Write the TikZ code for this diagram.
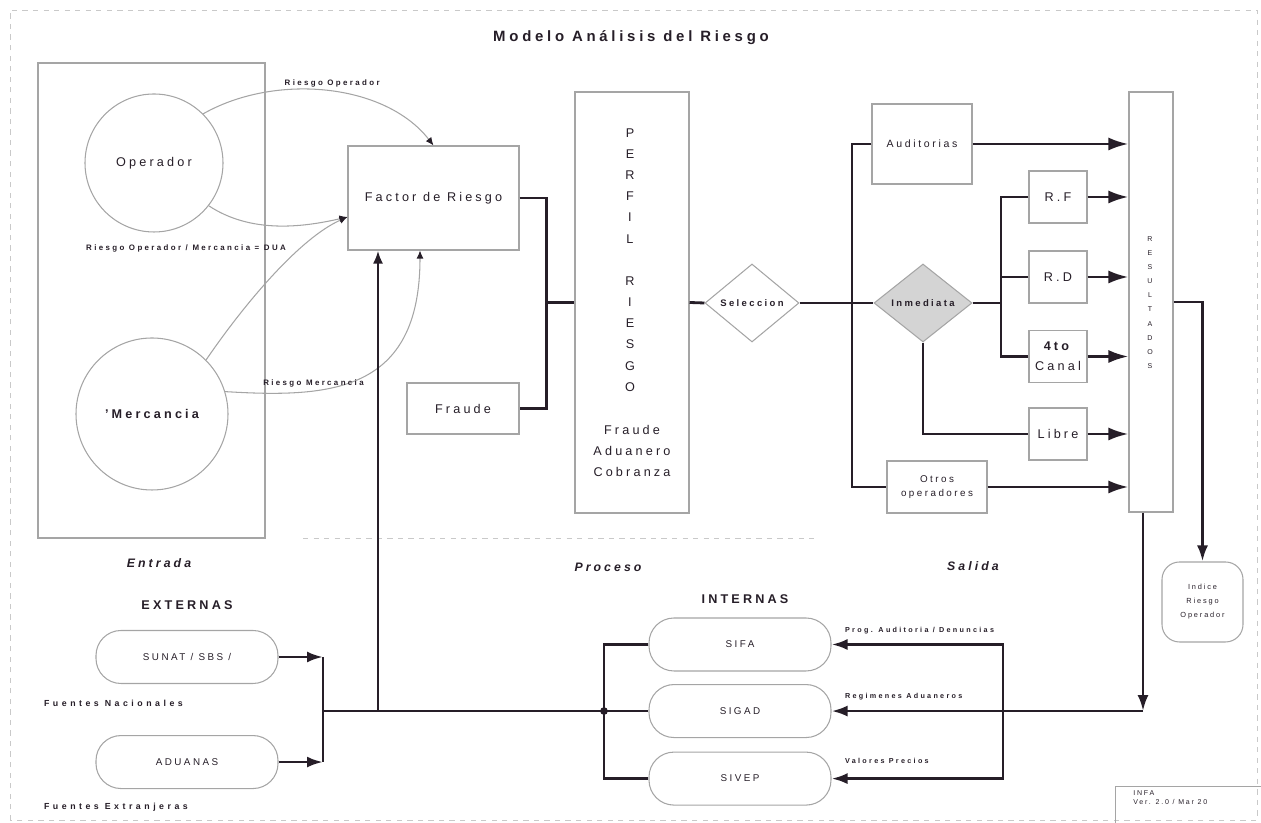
\documentclass[tikz,border=0pt]{standalone}
\usepackage{fontspec}
\setmainfont[LetterSpace=25]{Liberation Sans}
\usepackage{tikz}
\usetikzlibrary{shapes.geometric, arrows.meta, positioning, calc}
\definecolor{linegray}{RGB}{165,165,165}
\definecolor{inkdark}{RGB}{38,30,40}
\definecolor{shadegray}{RGB}{212,212,212}
\tikzstyle{box} = [rectangle, draw=linegray, line width=0.6pt, text centered, align=center, inner sep=1pt]
\tikzstyle{pill} = [rectangle, rounded corners=0.5cm, draw=linegray, line width=0.6pt, minimum width=3.64cm, minimum height=1.06cm, font=\fontsize{5.6}{7}\selectfont]
\tikzstyle{choice} = [diamond, draw=linegray, line width=0.6pt, aspect=1.2, inner sep=0pt, minimum width=1.88cm, minimum height=1.56cm, font=\fontsize{5.4}{7}\selectfont\bfseries]
\tikzstyle{source} = [circle, draw=linegray, line width=0.6pt]
\tikzstyle{bus} = [line width=1.6pt, draw=inkdark]
\tikzstyle{arrow} = [bus, -{Latex[length=4mm, width=2.6mm]}]
\tikzstyle{arrowmd} = [bus, -{Latex[length=3.2mm, width=2.2mm]}]
\tikzstyle{flow} = [draw=linegray, line width=0.6pt, -{Latex[length=1.6mm, width=1.4mm, color=inkdark]}]
\tikzstyle{lbl} = [font=\fontsize{4.5}{5}\selectfont\bfseries\addfontfeature{LetterSpace=30}, inner sep=1pt]
\tikzstyle{tinylbl} = [font=\fontsize{4.1}{5}\selectfont\bfseries\addfontfeature{LetterSpace=32}, inner sep=1pt]
\tikzstyle{srclbl} = [font=\fontsize{5}{6}\selectfont\bfseries\addfontfeature{LetterSpace=40}, inner sep=1pt]
\tikzstyle{section} = [font=\fontsize{7}{9}\selectfont\bfseries\itshape]
\tikzstyle{group} = [font=\fontsize{7.2}{9}\selectfont\bfseries]
\tikzstyle{frame} = [draw=linegray!60, line width=0.5pt, dashed]

\begin{document}
\begin{tikzpicture}[font=\fontsize{7.2}{9}\selectfont, text=inkdark]
    \useasboundingbox (0,0) rectangle (25.22,16.46);
    \draw [frame] (0.2,0.06) rectangle (25.14,16.26);
    \node (title) [font=\fontsize{8.5}{10}\selectfont\bfseries] at (12.62,15.70) {Modelo Análisis del Riesgo};

    % Entrada
    \node (entradabox) [box, minimum width=4.54cm, minimum height=9.5cm] at (3.03,10.45) {};
    \node (oper) [source, minimum size=2.76cm] at (3.08,13.20) {Operador};
    \node (merc) [source, minimum size=3.04cm, font=\fontsize{7.2}{9}\selectfont\bfseries] at (3.04,8.18) {'Mercancia};
    \node (entrada) [section] at (3.18,5.20) {Entrada};

    % Proceso
    \node (factor) [box, minimum width=3.42cm, minimum height=2.08cm] at (8.67,12.50) {Factor de Riesgo};
    \node (fraude) [box, minimum width=2.24cm, minimum height=1.02cm] at (9.26,8.29) {Fraude};
    \node (perfil) [box, minimum width=2.28cm, minimum height=8.42cm] at (12.64,10.41) {};
    \node (perfiltxt) [font=\fontsize{7.2}{12.05}\selectfont, align=center] at (12.60,11.26) {P\\E\\R\\F\\I\\L\\[12.05pt]R\\I\\E\\S\\G\\O};
    \node (perfilsub) [font=\fontsize{7.2}{12.2}\selectfont, align=center] at (12.64,7.44) {Fraude\\Aduanero\\Cobranza};
    \node (sel) [choice] at (15.04,10.40) {Seleccion};
    \node (proceso) [section] at (12.16,5.12) {Proceso};
    \draw [frame] (6.06,5.70) -- (16.3,5.70);

    % Salida
    \node (audit) [box, minimum width=2cm, minimum height=1.6cm, font=\fontsize{6}{8}\selectfont] at (18.44,13.58) {Auditorias};
    \node (inm) [choice, fill=shadegray, minimum width=1.96cm] at (18.46,10.40) {Inmediata};
    \node (rf) [box, minimum width=1.16cm, minimum height=1.04cm] at (21.16,12.52) {R.F};
    \node (rd) [box, minimum width=1.16cm, minimum height=1.04cm] at (21.16,10.92) {R.D};
    \node (canal) [box, minimum width=1.16cm, minimum height=1.04cm, font=\fontsize{7.2}{11.4}\selectfont] at (21.16,9.33) {\textbf{4to}\\Canal};
    \node (libre) [box, minimum width=1.16cm, minimum height=1.04cm] at (21.16,7.78) {Libre};
    \node (otros) [box, minimum width=2cm, minimum height=1.04cm, font=\fontsize{5.6}{8}\selectfont] at (18.74,6.72) {Otros\\operadores};
    \node (res) [box, minimum width=0.88cm, minimum height=8.4cm] at (23.02,10.42) {};
    \node (restxt) [font=\fontsize{4}{8.03}\selectfont, align=center] at (23.0,10.41) {R\\E\\S\\U\\L\\T\\A\\D\\O\\S};
    \node (indice) [box, rounded corners=0.35cm, minimum width=1.62cm, minimum height=1.6cm, font=\fontsize{4.2}{8}\selectfont] at (24.05,4.42) {Indice\\Riesgo\\Operador};
    \node (salida) [section] at (19.46,5.14) {Salida};

    % Fuentes externas
    \node (externas) [group] at (3.74,4.36) {EXTERNAS};
    \node (sunat) [pill] at (3.74,3.32) {SUNAT / SBS /};
    \node (aduanas) [pill, below=1.02cm of sunat] {ADUANAS};
    \node (fnac) [srclbl, anchor=west] at (0.84,2.40) {Fuentes Nacionales};
    \node (fext) [srclbl, anchor=west] at (0.84,0.32) {Fuentes Extranjeras};

    % Fuentes internas
    \node (internas) [group] at (14.9,4.48) {INTERNAS};
    \node (sifa) [pill] at (14.8,3.57) {SIFA};
    \node (sigad) [pill, below=0.25cm of sifa] {SIGAD};
    \node (sivep) [pill, below=0.27cm of sigad] {SIVEP};

    % Version box
    \node (infa) [box, anchor=north west, minimum width=3.2cm, minimum height=1.2cm] at (22.3,0.74) {};
    \node (infatxt) [anchor=north west, align=left, font=\fontsize{4}{5.1}\selectfont, inner sep=0pt] at (22.66,0.66) {INFA\\Ver. 2.0 / Mar 20};

    % Riesgo flows
    \coordinate (fin) at ([yshift=-0.38cm]factor.west);
    \draw [flow] (oper.45) .. controls (5.5,15.0) and (7.7,14.8) .. node[lbl, above=1pt, pos=0.52] {Riesgo Operador} (factor.north);
    \draw [flow] (oper.-38) .. controls (5.0,11.8) and (6.0,11.9) .. (fin);
    \draw [flow] (merc.45) .. controls (4.9,10.4) and (6.0,11.7) .. (fin);
    \draw [flow] (merc.17) .. controls (6.6,8.5) and (8.4,8.6) .. node[lbl, above=1pt, pos=0.3] {Riesgo Mercancia} ([xshift=-0.27cm]factor.south);
    \node (dua) [lbl] at (3.72,11.5) {Riesgo Operador / Mercancia = DUA};

    % Perfil
    \coordinate (jn) at ([xshift=-0.56cm]perfil.west);
    \draw [bus] (factor.east) -| (jn) |- (fraude.east);
    \draw [bus] (jn) -- (perfil.west);
    \draw [bus] (perfil.east) -- (sel.west);
    \draw [bus] (sel.east) -- (inm.west);

    % Salidas
    \coordinate (tk) at (17.04,10.40);
    \coordinate (br) at (20.02,10.40);
    \draw [bus] (audit.west) -| (tk) |- (otros.west);
    \draw [bus] (inm.east) -- (br);
    \draw [bus] (rf.west) -| (br);
    \draw [bus] (rd.west) -| (br);
    \draw [bus] (canal.west) -| (br);
    \draw [bus] (inm.south) |- (libre.west);
    \foreach \n in {audit, rf, rd, canal, libre, otros}
        \draw [arrow] (\n.east) -- (\n.east -| res.west);

    % Resultados
    \coordinate (turn) at ([xshift=-0.16cm]res.south |- sigad.east);
    \coordinate (rv) at (20.06,0 |- sigad.east);
    \draw [arrowmd] (res.east) -| (indice.north);
    \draw [arrowmd] ([xshift=-0.16cm]res.south) -- (turn);
    \draw [arrowmd] (turn) -- (sigad.east);
    \draw [arrowmd] (rv) |- (sifa.east);
    \draw [arrowmd] (rv) |- (sivep.east);
    \node (lsifa) [tinylbl, anchor=west] at (16.86,3.84) {Prog. Auditoria / Denuncias};
    \node (lsigad) [tinylbl, anchor=west] at (16.86,2.52) {Regimenes Aduaneros};
    \node (lsivep) [tinylbl, anchor=west] at (16.86,1.24) {Valores Precios};

    % Entradas al sistema
    \coordinate (ev) at (6.46,0 |- sigad.west);
    \coordinate (lv) at (12.08,0 |- sigad.west);
    \coordinate (fv) at (7.56,0 |- sigad.west);
    \draw [arrowmd] (sunat.east) -- (sunat.east -| ev);
    \draw [arrowmd] (aduanas.east) -- (aduanas.east -| ev);
    \draw [bus] (sunat.east -| ev) -- (aduanas.east -| ev);
    \draw [bus] (ev) -- (sigad.west);
    \draw [bus] (sifa.west) -| (lv) |- (sivep.west);
    \fill [inkdark] (lv) circle (2.2pt);
    \draw [bus, -{Latex[length=2.6mm, width=2mm]}] (fv) -- (fv |- factor.south);
\end{tikzpicture}
\end{document}
